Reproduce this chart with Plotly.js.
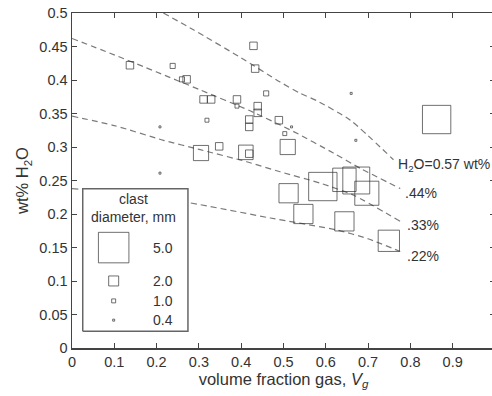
<!DOCTYPE html>
<html>
<head>
<meta charset="utf-8">
<script src="https://cdn.plot.ly/plotly-3.0.1.min.js"></script>
<style>html,body{margin:0;padding:0;overflow:hidden;background:#fff;width:492px;height:396px;}</style>
</head>
<body>
<div id="chart"></div>
<script>
// ---- data ----
var vg = [0.137,0.238,0.260,0.271,0.311,0.329,0.319,0.208,0.208,0.305,0.348,0.411,0.419,0.390,0.390,0.429,0.433,0.459,0.419,0.419,0.439,0.439,0.489,0.503,0.519,0.510,0.660,0.671,0.862,0.593,0.644,0.672,0.697,0.512,0.547,0.644,0.749];
var wtH2O = [0.422,0.421,0.401,0.401,0.371,0.371,0.340,0.330,0.261,0.291,0.301,0.292,0.290,0.371,0.361,0.451,0.417,0.380,0.341,0.330,0.361,0.351,0.340,0.320,0.330,0.300,0.380,0.310,0.341,0.241,0.251,0.250,0.231,0.231,0.200,0.189,0.160];
var clastDiamMm = [1.6,1.2,1.2,1.6,1.6,1.6,1.0,0.4,0.4,2.8,1.6,2.7,1.6,1.6,1.0,1.6,1.6,1.2,1.6,1.6,1.6,1.6,1.6,1.0,0.4,2.8,0.4,0.4,4.7,4.7,4.0,4.5,4.1,3.4,3.4,3.4,3.7];

// isopleth curves (constant H2O content)
var c57x = [0.216,0.287,0.400,0.492,0.540,0.579,0.658,0.760];
var c57y = [0.500,0.475,0.433,0.397,0.380,0.369,0.340,0.281];
var c44x = [0.000,0.090,0.200,0.300,0.421,0.524,0.618,0.682,0.776];
var c44y = [0.462,0.440,0.412,0.386,0.354,0.323,0.291,0.268,0.238];
var c33x = [0.000,0.100,0.216,0.303,0.413,0.492,0.587,0.666,0.776];
var c33y = [0.346,0.332,0.310,0.296,0.278,0.263,0.246,0.228,0.189];
var c22x = [0.000,0.100,0.275,0.469,0.627,0.700,0.776];
var c22y = [0.238,0.232,0.217,0.194,0.176,0.163,0.144];

var curveLabels = ["H<sub>2</sub>O=0.57 wt%", ".44%", ".33%", ".22%"];

var legendDiam = [5.0, 2.0, 1.0, 0.4];
var legendLabels = ["5.0", "2.0", "1.0", "0.4"];

var xTicks = [0,0.1,0.2,0.3,0.4,0.5,0.6,0.7,0.8,0.9];
var yTicks = [0,0.05,0.1,0.15,0.2,0.25,0.3,0.35,0.4,0.45,0.5];

// ---- size scale: clast diameter (mm) -> marker side (px) ----
function sizeScale(d){ return Math.max(2, 4.95*Math.pow(d,1.15) - 1); }

var FONT = "Liberation Sans, Arial, Helvetica, sans-serif";
var dashStyle = {color:'#7a7a7a', width:1.2, dash:'6px,4px', shape:'spline', smoothing:0.6};

var traces = [];
[[c57x,c57y],[c44x,c44y],[c33x,c33y],[c22x,c22y]].forEach(function(c){
  traces.push({type:'scatter', mode:'lines', x:c[0], y:c[1], line:dashStyle, hoverinfo:'skip', cliponaxis:true});
});
traces.push({
  type:'scatter', mode:'markers', x:vg, y:wtH2O,
  marker:{symbol:'square-open', size:clastDiamMm.map(sizeScale), color:'#333', line:{width:1, color:'#333'}}
});

// legend box on an overlay axis pair
traces.push({type:'scatter', mode:'lines', xaxis:'x2', yaxis:'y2',
  x:[0,1,1,0,0], y:[0,0,1,1,0], fill:'toself', fillcolor:'#fff',
  line:{color:'#666', width:1.5}, hoverinfo:'skip'});
var legRowY = [0.587, 0.353, 0.213, 0.078];
traces.push({type:'scatter', mode:'markers', xaxis:'x2', yaxis:'y2',
  x:legendDiam.map(function(){return 0.294;}), y:legRowY,
  marker:{symbol:'square-open', size:legendDiam.map(sizeScale), color:'#333', line:{width:1,color:'#333'}}});

var annotations = [];
var labPos = [[0.765,0.273],[0.783,0.231],[0.788,0.183],[0.788,0.137]];
curveLabels.forEach(function(t,i){
  annotations.push({xref:'x', yref:'y', x:labPos[i][0], y:labPos[i][1], text:t, showarrow:false,
    xanchor:'left', yanchor:'middle', font:{family:FONT, size:14, color:'#333'}});
});
annotations.push({xref:'x2', yref:'y2', x:0.48, y:0.864, text:'clast<br>diameter, mm', showarrow:false,
  xanchor:'center', yanchor:'middle', font:{family:FONT, size:14, color:'#333'}});
legendLabels.forEach(function(t,i){
  annotations.push({xref:'x2', yref:'y2', x:0.76, y:legRowY[i], text:t, showarrow:false,
    xanchor:'center', yanchor:'middle', font:{family:FONT, size:14, color:'#333'}});
});

var axisCommon = {
  showline:true, linecolor:'#444', linewidth:1.5, mirror:'ticks',
  ticks:'inside', ticklen:5, tickcolor:'#444', tickwidth:1,
  showgrid:false, zeroline:false,
  tickfont:{family:FONT, size:14.5, color:'#333'}
};

var layout = {
  width:495, height:396,
  margin:{l:72, r:0, t:13, b:48, pad:0},
  paper_bgcolor:'#fff', plot_bgcolor:'#fff',
  showlegend:false,
  font:{family:FONT, color:'#333'},
  xaxis:Object.assign({}, axisCommon, {range:[0,1], tickvals:xTicks, ticktext:xTicks.map(String),
    title:{text:'volume fraction gas, <i>V<sub>g</sub></i>', font:{family:FONT, size:16.5, color:'#333'}, standoff:4}}),
  yaxis:Object.assign({}, axisCommon, {range:[0,0.5], tickvals:yTicks, ticktext:yTicks.map(String),
    title:{text:'wt% H<sub>2</sub>O', font:{family:FONT, size:16.5, color:'#333'}, standoff:6}}),
  xaxis2:{domain:[0.0229,0.2766], anchor:'y2', range:[-0.01,1.01], visible:false, fixedrange:true},
  yaxis2:{domain:[0.0457,0.4797], anchor:'x2', range:[-0.01,1.01], visible:false, fixedrange:true},
  annotations:annotations
};

Plotly.newPlot('chart', traces, layout, {displayModeBar:false, staticPlot:true});
</script>
</body>
</html>
